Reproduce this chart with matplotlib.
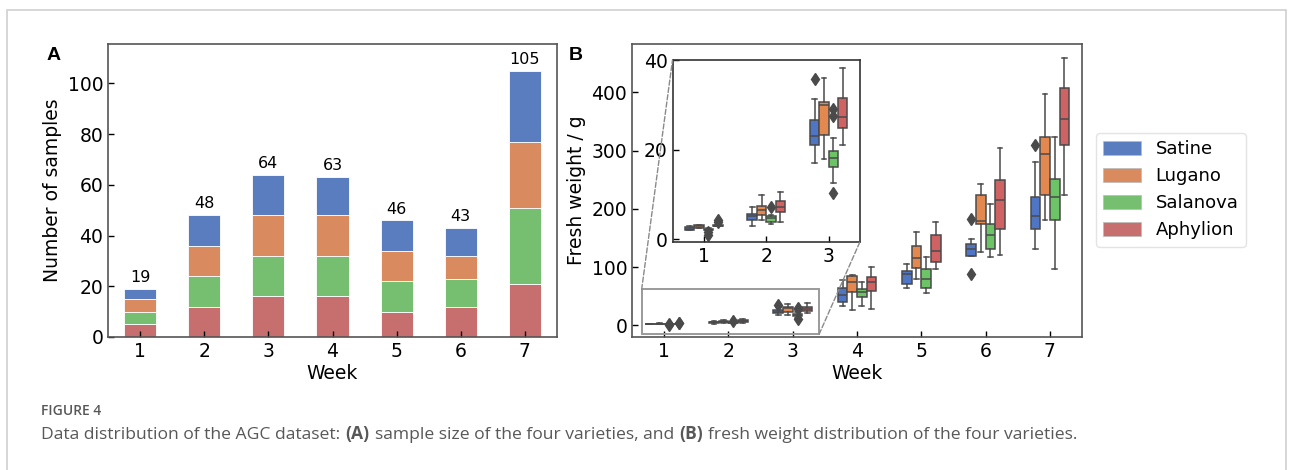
import numpy as np
import matplotlib
matplotlib.use("Agg")
import matplotlib.pyplot as plt
from matplotlib.patches import Rectangle, Patch, ConnectionPatch

# ---- data ----
weeks = [1, 2, 3, 4, 5, 6, 7]
varieties = ["Satine", "Lugano", "Salanova", "Aphylion"]

# panel A: samples per week, stacked bottom -> top: Aphylion, Salanova, Lugano, Satine
n_aphylion = [5, 12, 16, 16, 10, 12, 21]
n_salanova = [5, 12, 16, 16, 12, 11, 30]
n_lugano = [5, 12, 16, 16, 12, 9, 26]
n_satine = [4, 12, 16, 15, 12, 11, 28]

# panel B: box stats per variety (Satine, Lugano, Salanova, Aphylion), per week
whislo = [[2.0, 3.0, 17.0, 32.8, 64.4, 119, 130.7],
          [2.4, 4.2, 17.8, 25.9, 78.9, 126, 181],
          [2.0, 3.4, 12.5, 34.0, 55.8, 117, 96],
          [2.9, 3.9, 21.0, 28.8, 97.3, 121, 224]]
q1 = [[2.1, 4.3, 21.0, 40.3, 70.8, 119, 165],
      [2.5, 5.3, 23.2, 56.4, 98.4, 174, 224],
      [2.0, 3.9, 16.1, 49.0, 63.3, 131, 181],
      [2.9, 6.0, 24.9, 59.0, 108.8, 165, 309]]
med = [[2.3, 5.1, 23.1, 51.8, 87.5, 130.7, 187],
       [2.8, 6.4, 29.9, 74.8, 115.7, 179.6, 293.5],
       [2.1, 4.7, 18.1, 56.4, 80.0, 155, 219.8],
       [3.0, 7.1, 27.3, 74.8, 127.8, 216, 354]]
q3 = [[2.6, 5.7, 26.7, 63.3, 93.8, 140, 220],
      [3.1, 7.3, 30.7, 85.0, 136.4, 224, 324],
      [2.3, 5.1, 19.6, 61.6, 97.3, 174, 251.5],
      [3.1, 8.4, 31.6, 82.3, 155.4, 250, 407]]
whishi = [[2.8, 7.1, 31.3, 77.7, 104.7, 148, 280],
          [3.2, 9.8, 36.0, 86.3, 161, 242, 397],
          [2.4, 5.3, 22.6, 73.6, 118, 208, 324],
          [3.2, 10.4, 38.3, 99.6, 178, 304, 459]]
fliers = [[[], [], [35.7], [], [], [182.5, 87.5], [309]],
          [[], [], [], [], [], [], []],
          [[1.0, 1.5], [7.2], [29.0, 27.5, 10.3], [], [], [], []],
          [[3.7, 4.3], [], [], [], [], [], []]]

# ---- style ----
colors = ["#597DBF", "#D98B5F", "#76BF71", "#C76E6E"]
box_colors = ["#4F76C4", "#E3884F", "#6CC466", "#CF6363"]
line_gray = "#4a4a4a"
spine_gray = "#555555"
fs = 13.5

plt.rcParams["font.family"] = "DejaVu Sans"

fig = plt.figure(figsize=(12.93, 4.70), dpi=100)

# outer frame
fig.add_artist(Rectangle((7 / 1293, -0.05), 1279 / 1293, 1 - 10 / 470 + 0.05,
                         transform=fig.transFigure, fill=False,
                         ec="#d0d0d0", lw=1.2))


def style_axes(ax, size=fs):
    for s in ax.spines.values():
        s.set_color(spine_gray)
        s.set_linewidth(1.2)
    ax.tick_params(direction="in", length=4, width=1, colors="black",
                   labelsize=size)


# ---- panel A ----
axA = fig.add_axes([108 / 1293, 1 - 337 / 470, 449 / 1293, 293 / 470])
bottom = np.zeros(len(weeks))
for vals, c in zip([n_aphylion, n_salanova, n_lugano, n_satine],
                   [colors[3], colors[2], colors[1], colors[0]]):
    axA.bar(weeks, vals, width=0.5, bottom=bottom, color=c,
            edgecolor="white", linewidth=0.6)
    bottom += np.array(vals)
for w, tot in zip(weeks, bottom):
    axA.text(w, tot + 1.5, f"{int(tot)}", ha="center", va="bottom",
             fontsize=11.5)
axA.set_xlim(0.5, 7.5)
axA.set_ylim(0, 115.5)
axA.set_yticks([0, 20, 40, 60, 80, 100])
axA.set_xticks(weeks)
axA.set_xlabel("Week", fontsize=fs, labelpad=2)
axA.set_ylabel("Number of samples", fontsize=fs)
style_axes(axA)

# ---- panel B ----
axB = fig.add_axes([632 / 1293, 1 - 337 / 470, 450 / 1293, 293 / 470])
axIn = fig.add_axes([672.5 / 1293, 1 - 241.7 / 470, 187.5 / 1293, 181.7 / 470])

offsets = [-0.225, -0.075, 0.075, 0.225]


def draw_boxes(ax, nweeks):
    for v in range(4):
        stats = []
        for i in range(nweeks):
            stats.append(dict(whislo=whislo[v][i], q1=q1[v][i], med=med[v][i],
                              q3=q3[v][i], whishi=whishi[v][i],
                              fliers=fliers[v][i]))
        pos = [weeks[i] + offsets[v] for i in range(nweeks)]
        ax.bxp(stats, positions=pos, widths=0.15, patch_artist=True,
               manage_ticks=False,
               boxprops=dict(facecolor=box_colors[v], edgecolor=line_gray,
                             linewidth=1.1),
               medianprops=dict(color=line_gray, linewidth=1.1),
               whiskerprops=dict(color=line_gray, linewidth=1.1),
               capprops=dict(color=line_gray, linewidth=1.1),
               flierprops=dict(marker="d", markerfacecolor=line_gray,
                               markeredgecolor=line_gray, markersize=6.5))


draw_boxes(axB, 7)
axB.set_xlim(0.5, 7.5)
axB.set_ylim(-20, 483)
axB.set_yticks([0, 100, 200, 300, 400])
axB.set_xticks(weeks)
axB.set_xlabel("Week", fontsize=fs, labelpad=2)
axB.set_ylabel("Fresh weight / g", fontsize=fs)
style_axes(axB)

draw_boxes(axIn, 3)
axIn.set_xlim(0.5, 3.5)
axIn.set_ylim(-0.6, 40)
axIn.set_yticks([0, 20, 40])
axIn.set_xticks([1, 2, 3])
style_axes(axIn)
for s in axIn.spines.values():
    s.set_color("#333333")

# zoom rectangle and connectors
rx0, rx1, ry0, ry1 = 0.65, 3.41, -15.5, 61.6
axB.add_patch(Rectangle((rx0, ry0), rx1 - rx0, ry1 - ry0, fill=False,
                        ec="#9a9a9a", lw=1.4, zorder=5))
for xyA, xyB in [((rx0, ry1), (0, 1)), ((rx1, ry0), (1, 0))]:
    con = ConnectionPatch(xyA=xyA, coordsA=axB.transData, xyB=xyB,
                          coordsB=axIn.transAxes, color="#8a8a8a",
                          linestyle="--", lw=1)
    fig.add_artist(con)

# legend
handles = [Patch(facecolor=c, edgecolor="#bbbbbb", lw=0.5) for c in colors]
fig.legend(handles, varieties, loc="upper left",
           bbox_to_anchor=(1096 / 1293, 1 - 133 / 470), fontsize=13,
           frameon=True, edgecolor="#dddddd", handlelength=2.1,
           handleheight=0.75, borderaxespad=0)

# panel letters
fig.text(47 / 1293, 1 - 56 / 470, "A", fontsize=14, fontweight="bold",
         family="Liberation Sans", va="center")
fig.text(569 / 1293, 1 - 56 / 470, "B", fontsize=14, fontweight="bold",
         family="Liberation Sans", va="center")

# caption
cap_color = "#585858"
cap_fs = 12.6
fig.text(41 / 1293, 1 - 415 / 470, "FIGURE 4", fontsize=10, color=cap_color,
         family="Open Sans", fontweight="semibold", va="baseline")
parts = [("(A)", "bold", 3.8),
         ("sample size of the four varieties, and", "normal", 3.8),
         ("(B)", "bold", 3.8),
         ("fresh weight distribution of the four varieties.", "normal", 3.8)]
prev = fig.text(41 / 1293, 1 - 439 / 470, "Data distribution of the AGC dataset:",
                fontsize=cap_fs, color=cap_color, family="Open Sans",
                va="baseline")
for txt, wt, gap in parts:
    prev = fig.add_artist(plt.Annotation(
        txt, xy=(1, 0), xycoords=prev, xytext=(gap, 0),
        textcoords="offset points", fontsize=cap_fs, color=cap_color,
        family="Open Sans", fontweight=wt, va="bottom", ha="left"))

fig.savefig("out.png", dpi=100)
